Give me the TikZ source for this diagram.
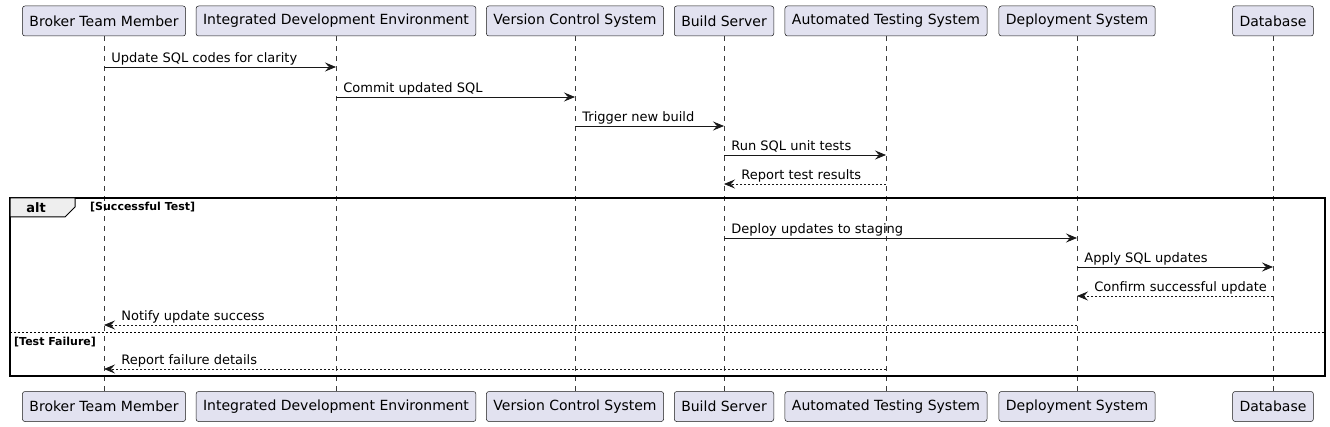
\documentclass[tikz,border=0pt]{standalone}
\usepackage{fontspec}
\setmainfont{DejaVu Sans}
\usepackage{xcolor}
\usetikzlibrary{arrows.meta}

\definecolor{partfill}{HTML}{E2E2F0}
\definecolor{partline}{HTML}{181818}
\definecolor{tabfill}{HTML}{EEEEEE}

\tikzset{
  part/.style={draw=partline, fill=partfill, rounded corners=2.5pt, minimum height=30pt,
    inner xsep=7pt, inner ysep=0pt, line width=0.5pt, font=\fontsize{14}{16}\selectfont},
  life/.style={draw=partline!85, dash pattern=on 5pt off 5pt, line width=0.5pt},
  msg/.style={-{Stealth[length=11pt,width=9pt,inset=4pt]}, draw=partline, line width=0.75pt},
  reply/.style={msg, dash pattern=on 2pt off 2pt},
  lbl/.style={font=\fontsize{13}{15}\selectfont, inner sep=0pt, anchor=base west},
  guard/.style={font=\bfseries\fontsize{11}{13}\selectfont, inner sep=0pt, anchor=base west}
}

\begin{document}
\begin{tikzpicture}[x=1pt,y=1pt]
\useasboundingbox (0,0) rectangle (1330,-427);

% participants, top and bottom, with lifelines
\foreach \n/\x/\t in {btm/104/Broker Team Member, ide/336/Integrated Development Environment,
    vcs/575/Version Control System, bs/724/Build Server, ats/886/Automated Testing System,
    ds/1077/Deployment System, db/1273/Database} {
  \node[part] (\n) at (\x,-21) {\t};
  \node[part] (\n-b) at (\x,-406.5) {\t};
  \draw[life] (\n) -- (\n-b);
}

% alt frame
\draw[line width=1.5pt] (10,-198) rectangle (1325,-376);
\draw[fill=tabfill, line width=1pt] (10,-198) -- (75,-198) -- (75,-207) -- (65,-217) -- (10,-217) -- cycle;
\node[font=\bfseries\fontsize{13}{15}\selectfont, inner sep=0pt] (altkw) at (36,-207.5) {alt};
\node[guard] (g1) at (90,-210.5) {[Successful Test]};
\draw[dash pattern=on 2pt off 2pt, line width=1pt] (10,-333) -- (1325,-333);
\node[guard] (g2) at (14,-345) {[Test Failure]};

% calls
\foreach \f/\t/\y/\txt [count=\i] in {btm/ide/67/Update SQL codes for clarity,
    ide/vcs/97/Commit updated SQL, vcs/bs/126/Trigger new build, bs/ats/155/Run SQL unit tests,
    bs/ds/238/Deploy updates to staging, ds/db/267/Apply SQL updates} {
  \coordinate (r) at (0,-\y);
  \draw[msg] (\f |- r) -- (\t |- r)
    node[lbl, at start, xshift=7pt, yshift=4.5pt] (call\i) {\txt};
}

% replies
\foreach \f/\t/\y/\txt [count=\i] in {ats/bs/184/Report test results,
    db/ds/296/Confirm successful update, ds/btm/325/Notify update success,
    ats/btm/369/Report failure details} {
  \coordinate (r) at (0,-\y);
  \draw[reply] (\f |- r) -- (\t |- r)
    node[lbl, at end, xshift=17pt, yshift=4.5pt] (reply\i) {\txt};
}

\end{tikzpicture}
\end{document}
